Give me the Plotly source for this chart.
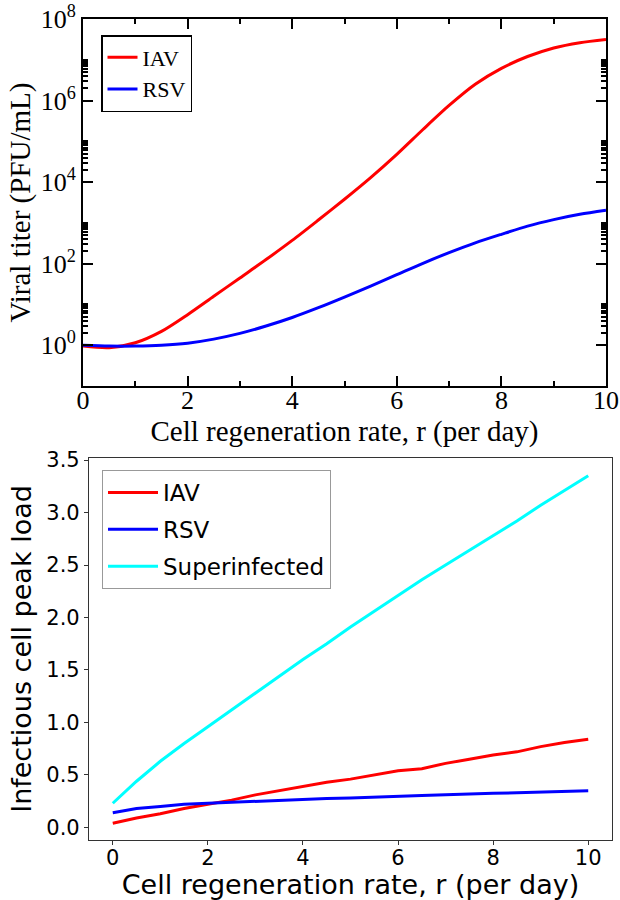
import plotly.graph_objects as go

# ---- Top panel data (viral titer, PFU/mL), read as log10 values ----
r_top = [0, 0.5, 1, 1.5, 2, 2.5, 3, 3.5, 4, 4.5, 5, 5.5, 6, 6.5, 7, 7.5, 8, 8.5, 9, 9.5, 10]
iav_log = [-0.02, -0.06, 0.06, 0.34, 0.75, 1.20, 1.65, 2.10, 2.57, 3.07, 3.58, 4.11, 4.68, 5.29, 5.88, 6.40, 6.79, 7.08, 7.29, 7.42, 7.50]
rsv_log = [0.00, -0.02, -0.02, 0.00, 0.05, 0.15, 0.29, 0.47, 0.68, 0.92, 1.18, 1.45, 1.73, 2.01, 2.27, 2.51, 2.72, 2.92, 3.08, 3.21, 3.31]
iav_titer = [10 ** v for v in iav_log]
rsv_titer = [10 ** v for v in rsv_log]

# ---- Bottom panel data (infectious cell peak load) ----
r_bot = [0, 0.5, 1, 1.5, 2, 2.5, 3, 3.5, 4, 4.5, 5, 5.5, 6, 6.5, 7, 7.5, 8, 8.5, 9, 9.5, 10]
iav_peak = [0.04, 0.09, 0.13, 0.18, 0.22, 0.26, 0.31, 0.35, 0.39, 0.43, 0.46, 0.50, 0.54, 0.56, 0.61, 0.65, 0.69, 0.72, 0.77, 0.81, 0.84]
rsv_peak = [0.14, 0.18, 0.20, 0.22, 0.23, 0.24, 0.25, 0.26, 0.27, 0.275, 0.28, 0.29, 0.30, 0.305, 0.31, 0.32, 0.325, 0.33, 0.335, 0.34, 0.35]
sup_peak = [0.23, 0.44, 0.63, 0.80, 0.96, 1.12, 1.28, 1.44, 1.60, 1.75, 1.91, 2.06, 2.21, 2.36, 2.50, 2.64, 2.78, 2.92, 3.07, 3.21, 3.35]

top_major = [1, 1e2, 1e4, 1e6, 1e8]
top_major_text = ["10<sup>0</sup>", "10<sup>2</sup>", "10<sup>4</sup>", "10<sup>6</sup>", "10<sup>8</sup>"]
top_minor = [k * 10 ** e for e in (0, 2, 4, 6) for k in range(2, 11)]
bot_yticks = [0, 0.5, 1, 1.5, 2, 2.5, 3, 3.5]
bot_ytext = ["0.0", "0.5", "1.0", "1.5", "2.0", "2.5", "3.0", "3.5"]

serif = "Liberation Serif, Times New Roman, serif"
sans = "DejaVu Sans, sans-serif"

fig = go.Figure()
fig.add_trace(go.Scatter(x=r_top, y=iav_titer, mode="lines", name="IAV",
                         line=dict(color="#ff0000", width=3, shape="spline", smoothing=0.8),
                         xaxis="x", yaxis="y", legend="legend"))
fig.add_trace(go.Scatter(x=r_top, y=rsv_titer, mode="lines", name="RSV",
                         line=dict(color="#0000ff", width=3, shape="spline", smoothing=0.8),
                         xaxis="x", yaxis="y", legend="legend"))
fig.add_trace(go.Scatter(x=r_bot, y=iav_peak, mode="lines", name="IAV", line=dict(color="#ff0000", width=3),
                         xaxis="x2", yaxis="y2", legend="legend2", legendgroup="a"))
fig.add_trace(go.Scatter(x=r_bot, y=rsv_peak, mode="lines", name="RSV", line=dict(color="#0000ff", width=3),
                         xaxis="x2", yaxis="y2", legend="legend2", legendgroup="b"))
fig.add_trace(go.Scatter(x=r_bot, y=sup_peak, mode="lines", name="Superinfected", line=dict(color="#00ffff", width=3),
                         xaxis="x2", yaxis="y2", legend="legend2", legendgroup="c"))

fig.update_layout(
    width=620, height=900,
    margin=dict(l=0, r=0, t=0, b=0),
    paper_bgcolor="white", plot_bgcolor="white",
    xaxis=dict(domain=[83 / 620, 606 / 620], anchor="y", range=[0, 10], automargin=False,
               tickvals=[0, 2, 4, 6, 8, 10], ticks="inside", ticklen=10, tickwidth=2, tickcolor="black",
               minor=dict(tickvals=[1, 3, 5, 7, 9], ticks="inside", ticklen=5, tickwidth=2, tickcolor="black"),
               showline=True, linecolor="black", linewidth=2, mirror="ticks", showgrid=False, zeroline=False,
               tickfont=dict(family=serif, size=26, color="black"), ticklabelstandoff=-10,
               title=dict(text="Cell regeneration rate, r (per day)", font=dict(family=serif, size=29, color="black"), standoff=0)),
    yaxis=dict(domain=[(900 - 386) / 900, (900 - 19) / 900], anchor="x", type="log", range=[-1, 8], automargin=False,
               tickvals=top_major, ticktext=top_major_text, ticks="inside", ticklen=10, tickwidth=2, tickcolor="black",
               minor=dict(tickvals=top_minor, ticks="inside", ticklen=5, tickwidth=2, tickcolor="black", showgrid=False),
               showline=True, linecolor="black", linewidth=2, mirror="ticks", showgrid=False, zeroline=False,
               tickfont=dict(family=serif, size=26, color="black"),
               title=dict(text="Viral titer (PFU/mL)", font=dict(family=serif, size=29, color="black"), standoff=2)),
    xaxis2=dict(domain=[89 / 620, 612 / 620], anchor="y2", range=[-0.5, 10.5], automargin=False,
                tickvals=[0, 2, 4, 6, 8, 10], ticks="outside", ticklen=4, tickwidth=1.2, tickcolor="#333",
                showline=True, linecolor="#333", linewidth=1.2, mirror=True, showgrid=False, zeroline=False,
                tickfont=dict(family=sans, size=21, color="black"), ticklabelstandoff=-5,
                title=dict(text="Cell regeneration rate, r (per day)", font=dict(family=sans, size=27, color="black"), standoff=2)),
    yaxis2=dict(domain=[(900 - 840) / 900, (900 - 458) / 900], anchor="x2", range=[-0.12, 3.52], automargin=False,
                tickvals=bot_yticks, ticktext=bot_ytext,
                ticks="outside", ticklen=4, tickwidth=1.2, tickcolor="#333",
                showline=True, linecolor="#333", linewidth=1.2, mirror=True, showgrid=False, zeroline=False,
                tickfont=dict(family=sans, size=21, color="black"),
                title=dict(text="Infectious cell peak load", font=dict(family=sans, size=27, color="black"), standoff=6)),
    legend=dict(x=101 / 620, y=(900 - 35) / 900, xanchor="left", yanchor="top",
                bgcolor="white", bordercolor="black", borderwidth=1.5,
                font=dict(family=serif, size=22, color="black"), tracegroupgap=0, itemwidth=30),
    legend2=dict(x=102 / 620, y=(900 - 470) / 900, xanchor="left", yanchor="top",
                 bgcolor="white", bordercolor="#999", borderwidth=1,
                 font=dict(family=sans, size=23, color="black"), tracegroupgap=4, itemwidth=50),
    showlegend=True,
)

fig.write_html("out.html")
